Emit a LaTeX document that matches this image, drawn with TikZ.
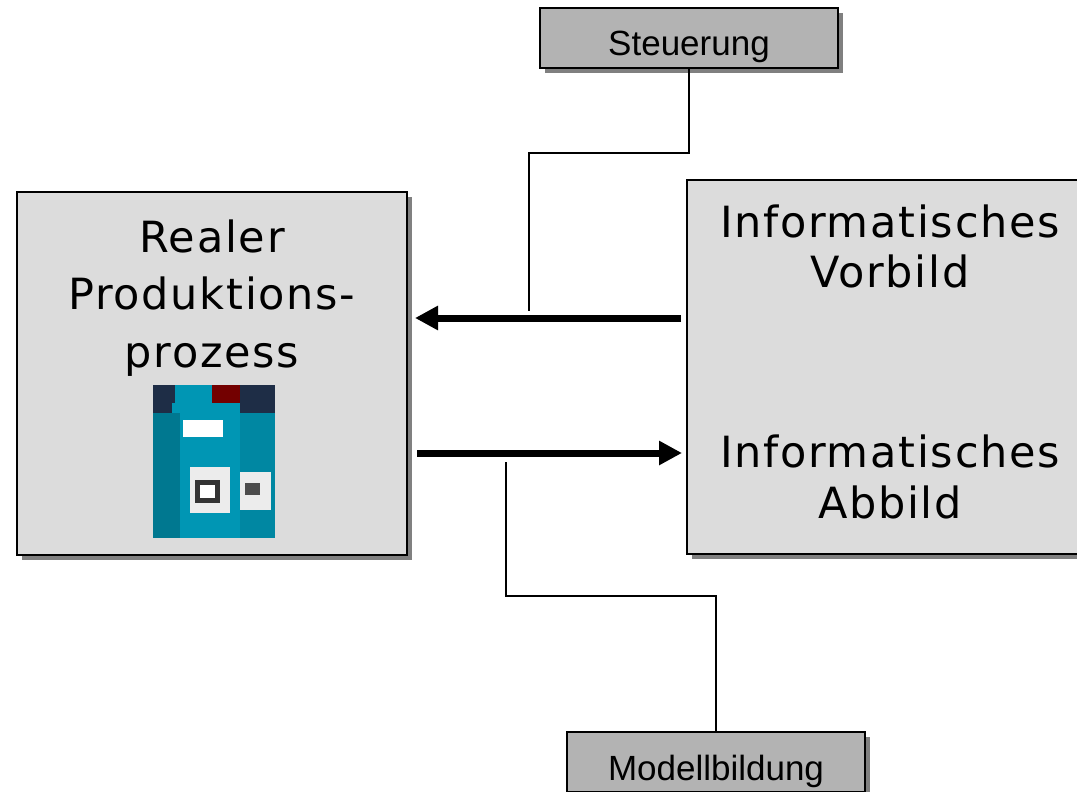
\documentclass[tikz,border=0pt]{standalone}
\usepackage{fontspec}
\setmainfont{DejaVu Sans}
\newfontfamily\kastenfont{Liberation Sans}
\newfontfamily\sperrfont[LetterSpace=4]{DejaVu Sans}
\usetikzlibrary{arrows.meta,shadows,positioning}

\definecolor{kastengrau}{HTML}{DCDCDC}
\definecolor{knopfgrau}{HTML}{B3B3B3}
\definecolor{schatten}{HTML}{808080}
\definecolor{pressblau}{RGB}{0,150,180}
\definecolor{hallendunkel}{RGB}{30,45,70}

\begin{document}
\begin{tikzpicture}[x=1pt, y=-1pt,
  haupt/.style = {draw, line width=2pt, fill=kastengrau, inner sep=0pt,
    drop shadow={shadow xshift=5pt, shadow yshift=-5pt, fill=schatten, opacity=1}},
  knopf/.style = {draw, line width=2pt, fill=knopfgrau, inner sep=0pt, minimum width=298pt,
    text height=48pt, text depth=12pt, font=\kastenfont\fontsize{35}{40}\selectfont,
    drop shadow={shadow xshift=5pt, shadow yshift=-5pt, fill=schatten, opacity=1}},
  gross/.style = {align=center, inner sep=0pt, anchor=north},
  verbindung/.style = {line width=2pt},
  pfeil/.style = {line width=7pt, -{Triangle[length=23pt,width=23pt]}}]
  \useasboundingbox (0,0) rectangle (1077,792);

  \node[haupt, minimum width=390pt, minimum height=363pt] at (212,373.5) (real) {};
  \node[haupt, minimum width=398pt, minimum height=374pt] at (886,367) (info) {};

  \node[gross, font=\sperrfont\fontsize{43}{57.5}\selectfont] at (212,219.3) (realtext) {Realer\\Produktions-\\prozess};
  \node[gross, font=\sperrfont\fontsize{43}{50.5}\selectfont] at (890,204.3) (vorbild) {Informatisches\\Vorbild};
  \node[gross, font=\sperrfont\fontsize{43}{51}\selectfont] at (890,434.3) (abbild) {Informatisches\\Abbild};

  \begin{scope}[shift={(153,385)}]
    \fill[hallendunkel] (0,0) rectangle (122,153);
    \fill[gray!35] (7,65) rectangle (30,152);
    \fill[red!45!black] (57,0) rectangle (87,18);
    \fill[pressblau] (22,0) rectangle (59,22);
    \fill[pressblau] (19,18) rectangle (87,63);
    \fill[pressblau!80!black] (0,28) rectangle (27,153);
    \fill[pressblau] (27,58) rectangle (90,153);
    \fill[pressblau!90!black] (87,28) rectangle (122,153);
    \fill[white] (30,35) rectangle (70,52);
    \fill[gray!15] (37,82) rectangle (77,128);
    \fill[black!80] (42,95) rectangle (67,118);
    \fill[white] (47,100) rectangle (62,113);
    \fill[gray!15] (87,87) rectangle (118,125);
    \fill[black!70] (92,98) rectangle (107,110);
  \end{scope}

  \node[knopf, anchor=north] at (689,7) (steuer) {Steuerung};
  \node[knopf, anchor=north] at (716,731) (modell) {Modellbildung};

  \coordinate (steuerEnde) at (529,311);
  \coordinate (modellAnfang) at (506,462);
  \draw[verbindung] (steuer.south) |- (steuerEnde |- 0,153) -- (steuerEnde);
  \draw[verbindung] (modellAnfang) |- (modell.north |- 0,596) -- (modell.north);

  \draw[pfeil, shorten <=5pt, shorten >=7pt] (info.west |- 0,318) -- (real.east |- 0,318);
  \draw[pfeil, shorten <=9pt, shorten >=4pt] (real.east |- 0,453) -- (info.west |- 0,453);
\end{tikzpicture}
\end{document}
